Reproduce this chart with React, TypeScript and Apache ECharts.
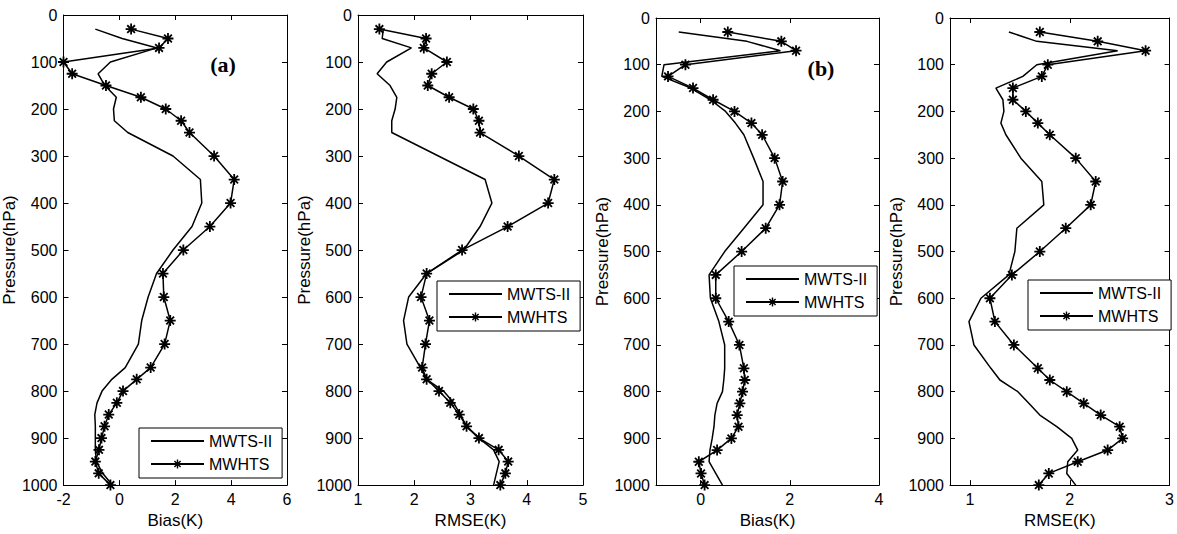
import React, { useEffect, useRef } from "react";
import * as echarts from "echarts";

const levels = [30, 50, 70, 100, 125, 150, 175, 200, 225, 250, 300, 350, 400, 450, 500, 550, 600, 650, 700, 750, 775, 800, 825, 850, 875, 900, 925, 950, 975, 1000];

const biasA_MWTS = [-0.86, 0.1, 1.35, -0.32, -0.76, -0.52, -0.11, -0.21, -0.18, 0.3, 1.92, 2.9, 2.95, 2.6, 1.92, 1.33, 1.03, 0.8, 0.68, 0.21, -0.27, -0.62, -0.8, -0.88, -0.86, -0.86, -0.86, -0.82, -0.6, -0.25];
const biasA_MWHTS = [0.42, 1.74, 1.42, -2.0, -1.69, -0.48, 0.77, 1.66, 2.21, 2.51, 3.39, 4.11, 3.98, 3.24, 2.29, 1.56, 1.59, 1.82, 1.62, 1.12, 0.62, 0.13, -0.09, -0.38, -0.53, -0.64, -0.73, -0.86, -0.74, -0.32];

const rmseA_MWTS = [1.45, 1.43, 1.95, 1.51, 1.34, 1.57, 1.69, 1.66, 1.6, 1.6, 2.43, 3.26, 3.38, 3.17, 2.88, 2.22, 1.9, 1.81, 1.87, 2.11, 2.22, 2.52, 2.7, 2.82, 2.93, 3.15, 3.41, 3.51, 3.46, 3.41];
const rmseA_MWHTS = [1.38, 2.21, 2.17, 2.58, 2.31, 2.24, 2.62, 3.05, 3.15, 3.17, 3.86, 4.49, 4.38, 3.66, 2.85, 2.22, 2.12, 2.27, 2.2, 2.14, 2.22, 2.44, 2.64, 2.8, 2.93, 3.15, 3.5, 3.67, 3.62, 3.53];

const biasB_MWTS = [-0.49, 1.04, 1.79, -0.82, -0.87, -0.22, 0.22, 0.56, 0.78, 0.97, 1.19, 1.4, 1.4, 0.97, 0.54, 0.19, 0.22, 0.41, 0.54, 0.54, 0.52, 0.49, 0.37, 0.32, 0.3, 0.26, 0.21, 0.19, 0.34, 0.49];
const biasB_MWHTS = [0.61, 1.81, 2.14, -0.34, -0.73, -0.17, 0.28, 0.76, 1.14, 1.38, 1.66, 1.84, 1.77, 1.46, 0.92, 0.34, 0.34, 0.63, 0.87, 0.97, 0.99, 0.94, 0.88, 0.82, 0.85, 0.69, 0.37, -0.04, 0.01, 0.09];

const rmseB_MWTS = [1.39, 1.67, 2.48, 1.67, 1.53, 1.26, 1.33, 1.34, 1.31, 1.36, 1.51, 1.72, 1.74, 1.47, 1.45, 1.39, 1.11, 0.99, 1.04, 1.21, 1.3, 1.48, 1.59, 1.7, 1.87, 2.02, 2.08, 1.98, 1.97, 2.06];
const rmseB_MWHTS = [1.7, 2.28, 2.76, 1.78, 1.72, 1.43, 1.43, 1.56, 1.68, 1.8, 2.06, 2.26, 2.21, 1.96, 1.7, 1.42, 1.2, 1.25, 1.44, 1.68, 1.8, 1.97, 2.14, 2.31, 2.5, 2.53, 2.38, 2.08, 1.79, 1.69];

const seriesNames = ["MWTS-II", "MWHTS"];
const xNames = ["Bias(K)", "RMSE(K)", "Bias(K)", "RMSE(K)"];
const yName = "Pressure(hPa)";
const xRanges = [[-2, 6], [1, 5], [-1, 4], [0.8, 3]];
const xTicks = [[-2, 0, 2, 4, 6], [1, 2, 3, 4, 5], [0, 2, 4], [1, 2, 3]];
const panelLabels = ["(a)", "(b)"];

const panelData = [
  [biasA_MWTS, biasA_MWHTS],
  [rmseA_MWTS, rmseA_MWHTS],
  [biasB_MWTS, biasB_MWHTS],
  [rmseB_MWTS, rmseB_MWHTS],
];

const FONT = "'Liberation Sans', Arial, Helvetica, sans-serif";
const STAR = "path://M10,0L10,20M0,10L20,10M3,3L17,17M3,17L17,3";

const grids = [
  { left: 61, top: 15, width: 226, height: 472 },
  { left: 358, top: 15, width: 225, height: 472 },
  { left: 656, top: 18, width: 223, height: 469 },
  { left: 950, top: 18, width: 225, height: 469 },
];
const legendPos = [
  { left: 139, top: 428 },
  { left: 437, top: 281 },
  { left: 734, top: 266 },
  { left: 1028, top: 280 },
];
const nameGaps = [35, 35, 34, 34];

const fmt = (v: number) => String(Math.round(v * 100) / 100);

export default function App() {
  const ref = useRef<HTMLDivElement>(null);
  useEffect(() => {
    if (!ref.current) return;
    const chart = echarts.init(ref.current, undefined, { renderer: "svg" });
    const xAxes: any[] = [];
    const yAxes: any[] = [];
    const series: any[] = [];
    const legends: any[] = [];
    for (let i = 0; i < 4; i++) {
      const [mn, mx] = xRanges[i];
      const useInterval = mn === xTicks[i][0];
      xAxes.push({
        type: "value",
        gridIndex: i,
        min: mn,
        max: mx,
        ...(useInterval ? { interval: xTicks[i][1] - xTicks[i][0] } : {}),
        position: "bottom",
        name: xNames[i],
        nameLocation: "middle",
        nameGap: 22,
        nameTextStyle: { fontFamily: FONT, fontSize: 17, color: "#000" },
        splitLine: { show: false },
        axisLine: { show: true, onZero: false, lineStyle: { color: "#000", width: 1 } },
        axisTick: {
          show: true,
          inside: true,
          length: 5,
          lineStyle: { color: "#000" },
          ...(useInterval ? {} : { customValues: xTicks[i] }),
        },
        axisLabel: {
          show: true,
          margin: 6,
          fontFamily: FONT,
          fontSize: 16,
          color: "#000",
          formatter: fmt,
          showMinLabel: true,
          showMaxLabel: true,
          ...(useInterval ? {} : { customValues: xTicks[i] }),
        },
      });
      yAxes.push({
        type: "value",
        gridIndex: i,
        min: 0,
        max: 1000,
        interval: 100,
        inverse: true,
        position: "left",
        name: yName,
        nameLocation: "middle",
        nameGap: nameGaps[i],
        nameTextStyle: { fontFamily: FONT, fontSize: 17, color: "#000" },
        splitLine: { show: false },
        axisLine: { show: true, onZero: false, lineStyle: { color: "#000", width: 1 } },
        axisTick: { show: true, inside: true, length: 5, lineStyle: { color: "#000" } },
        axisLabel: { margin: 6, fontFamily: FONT, fontSize: 16, color: "#000", formatter: fmt },
      });
    }
    for (let i = 0; i < 4; i++) {
      const [mn, mx] = xRanges[i];
      const useInterval = mn === xTicks[i][0];
      xAxes.push({
        type: "value",
        gridIndex: i,
        min: mn,
        max: mx,
        ...(useInterval ? { interval: xTicks[i][1] - xTicks[i][0] } : {}),
        position: "top",
        splitLine: { show: false },
        axisLine: { show: true, onZero: false, lineStyle: { color: "#000", width: 1 } },
        axisTick: {
          show: true,
          inside: true,
          length: 5,
          lineStyle: { color: "#000" },
          ...(useInterval ? {} : { customValues: xTicks[i] }),
        },
        axisLabel: { show: false },
      });
      yAxes.push({
        type: "value",
        gridIndex: i,
        min: 0,
        max: 1000,
        interval: 100,
        inverse: true,
        position: "right",
        splitLine: { show: false },
        axisLine: { show: true, onZero: false, lineStyle: { color: "#000", width: 1 } },
        axisTick: { show: true, inside: true, length: 5, lineStyle: { color: "#000" } },
        axisLabel: { show: false },
      });
    }
    for (let i = 0; i < 4; i++) {
      const [mwts, mwhts] = panelData[i];
      series.push({
        type: "line",
        name: seriesNames[0],
        xAxisIndex: i,
        yAxisIndex: i,
        data: levels.map((p, k) => [mwts[k], p]),
        showSymbol: false,
        symbol: "circle",
        itemStyle: { color: "#000", opacity: 0 },
        lineStyle: { color: "#000", width: 1.5 },
        z: 3,
      });
      series.push({
        type: "line",
        name: seriesNames[1],
        xAxisIndex: i,
        yAxisIndex: i,
        data: levels.map((p, k) => [mwhts[k], p]),
        symbol: STAR,
        symbolSize: 11,
        showSymbol: true,
        itemStyle: { color: "#000", borderColor: "#000", borderWidth: 1.8 },
        lineStyle: { color: "#000", width: 1.5 },
        z: 4,
      });
      legends.push({
        data: seriesNames,
        left: legendPos[i].left,
        top: legendPos[i].top,
        orient: "vertical",
        itemWidth: 53,
        itemHeight: 11,
        itemGap: 7,
        padding: [5, 10, 6, 11],
        borderColor: "#000",
        borderWidth: 1,
        backgroundColor: "#fff",
        selectedMode: false,
        itemStyle: { borderColor: "#000", borderWidth: 1.4 },
        textStyle: { fontFamily: FONT, fontSize: 16, color: "#000" },
      });
    }
    const labelStyle = {
      fontFamily: "'Liberation Serif', 'Times New Roman', serif",
      fontWeight: "bold",
      fontSize: 22,
      fill: "#000",
      textAlign: "center",
      textVerticalAlign: "middle",
    };
    chart.setOption({
      animation: false,
      backgroundColor: "#fff",
      grid: grids.map((g) => ({ ...g, containLabel: false })),
      xAxis: xAxes,
      yAxis: yAxes,
      legend: legends,
      series,
      graphic: [
        { type: "text", x: 223, y: 64, style: { ...labelStyle, text: panelLabels[0] } },
        { type: "text", x: 821, y: 68, style: { ...labelStyle, text: panelLabels[1] } },
      ],
    });
    return () => chart.dispose();
  }, []);
  return (
    <div
      ref={ref}
      style={{ position: "fixed", left: 0, top: 0, width: 1177, height: 534, background: "#fff" }}
    />
  );
}
